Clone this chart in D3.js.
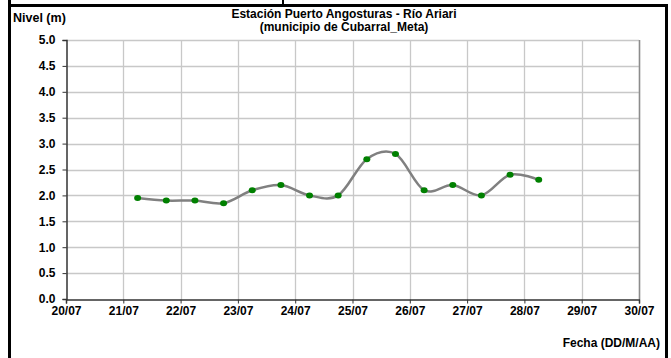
<!DOCTYPE html>
<html><head><meta charset="utf-8">
<script src="https://cdn.jsdelivr.net/npm/d3@7"></script>
<style>
html,body{margin:0;padding:0;background:#fff;}
svg text{font-family:"Liberation Sans",Arial,sans-serif;font-weight:bold;}
</style></head>
<body><svg id="c" width="671" height="358"></svg>
<script>
const times = ["2024-07-21T06:00","2024-07-21T18:00","2024-07-22T06:00","2024-07-22T18:00","2024-07-23T06:00","2024-07-23T18:00","2024-07-24T06:00","2024-07-24T18:00","2024-07-25T06:00","2024-07-25T18:00","2024-07-26T06:00","2024-07-26T18:00","2024-07-27T06:00","2024-07-27T18:00","2024-07-28T06:00"];
const levels = [1.95,1.9,1.9,1.85,2.1,2.2,2.0,2.0,2.7,2.8,2.1,2.2,2.0,2.4,2.3];
const yTicks = [0,0.5,1,1.5,2,2.5,3,3.5,4,4.5,5];
const xTickLabels = ["20/07","21/07","22/07","23/07","24/07","25/07","26/07","27/07","28/07","29/07","30/07"];
const titleLines = ["Estación Puerto Angosturas - Río Ariari","(municipio de Cubarral_Meta)"];
const yTitle = "Nivel (m)";
const xTitle = "Fecha (DD/M/AA)";

const svg = d3.select("#c");
const parse = d3.timeParse("%Y-%m-%dT%H:%M");
const data = times.map((t,i)=>({t:parse(t), v:levels[i]}));
const x0 = parse("2024-07-20T00:00"), x1 = parse("2024-07-30T00:00");
const L=66, R=639, T=40, B=299;
const x = d3.scaleTime().domain([x0,x1]).range([L,R]);
const y = d3.scaleLinear().domain([0,5]).range([B,T]);
const xTicks = d3.timeDay.range(x0, d3.timeDay.offset(x1,1));

// outer frame
svg.append("path").attr("d","M9.5,358 V5.5 H666.5 V358").attr("fill","none").attr("stroke","#000").attr("stroke-width",3);
svg.append("line").attr("x1",9.5).attr("x2",9.5).attr("y1",0).attr("y2",5).attr("stroke","#000").attr("stroke-width",3);
svg.append("line").attr("x1",283).attr("x2",283).attr("y1",0).attr("y2",5).attr("stroke","#000").attr("stroke-width",2);

// grid
const g = svg.append("g");
g.selectAll(".hg").data(yTicks.slice(1)).join("line")
 .attr("x1",L).attr("x2",R).attr("y1",d=>Math.round(y(d))+0.5).attr("y2",d=>Math.round(y(d))+0.5)
 .attr("stroke","#c8c8c8").attr("stroke-width",1.3);
g.selectAll(".vg").data(xTicks.slice(1)).join("line")
 .attr("x1",d=>Math.round(x(d))+0.5).attr("x2",d=>Math.round(x(d))+0.5).attr("y1",T).attr("y2",B)
 .attr("stroke","#c8c8c8").attr("stroke-width",1.3);
svg.append("line").attr("x1",R+0.5).attr("x2",R+0.5).attr("y1",T).attr("y2",B).attr("stroke","#8c8c8c").attr("stroke-width",1.5);

// axes
const yAxis = svg.append("g").attr("transform",`translate(${L+0.5},0)`)
 .call(d3.axisLeft(y).tickValues(yTicks).tickFormat(d3.format(".1f")).tickSize(4).tickPadding(7));
const xAxis = svg.append("g").attr("transform",`translate(0,${B+0.5})`)
 .call(d3.axisBottom(x).tickValues(xTicks).tickFormat((d,i)=>xTickLabels[i]).tickSize(4).tickPadding(3));
[yAxis,xAxis].forEach(a=>{
  a.select(".domain").attr("stroke","#333").attr("stroke-width",1.5);
  a.selectAll(".tick line").attr("stroke","#333").attr("stroke-width",1);
  a.selectAll("text").attr("fill","#000").style("font-size","12px").style("font-family","'Liberation Sans',Arial,sans-serif").style("font-weight","bold");
});

// line
const line = d3.line().x(d=>x(d.t)).y(d=>y(d.v)).curve(d3.curveCardinal.tension(0));
svg.append("path").datum(data).attr("d",line).attr("fill","none").attr("stroke","#808080").attr("stroke-width",2.5);
svg.selectAll(".pt").data(data).join("ellipse")
 .attr("cx",d=>x(d.t)).attr("cy",d=>y(d.v)).attr("rx",3.5).attr("ry",3)
 .attr("fill","#008000");

// texts
svg.append("text").attr("x",13).attr("y",22).style("font-size","12.5px").text(yTitle);
svg.selectAll(".ti").data(titleLines).join("text")
 .attr("x",344).attr("y",(d,i)=>18+i*12.5).attr("text-anchor","middle").style("font-size","12px").text(d=>d);
svg.append("text").attr("x",660).attr("y",347).attr("text-anchor","end").style("font-size","12px").text(xTitle);
</script></body></html>
